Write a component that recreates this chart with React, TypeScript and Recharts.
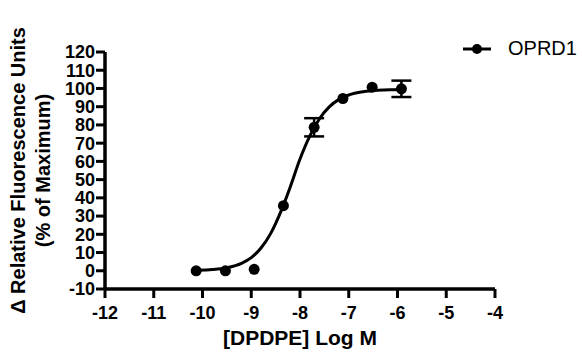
import { ComposedChart, Line, Scatter, ErrorBar, XAxis, YAxis, Legend } from "recharts";

const logDose = [-10.13, -9.53, -8.94, -8.34, -7.71, -7.12, -6.52, -5.92];
const response = [0, 0, 0.8, 35.7, 78.7, 94.5, 100.7, 99.8];
const sem = [null, null, null, null, 5, null, null, 4.5];

// fitted curve
const curveX = [-10.1, -9.8, -9.5, -9.2, -9.0, -8.8, -8.6, -8.4, -8.2, -8.0, -7.8, -7.6, -7.4, -7.2, -7.0, -6.7, -6.4, -6.1, -5.9];
const curveY = [0.3, 0.7, 1.7, 4.1, 7.2, 12.5, 20.5, 32, 46, 61.3, 73.9, 83.4, 89.9, 94.0, 96.4, 98.2, 99.0, 99.3, 99.4];

const xTicks = [-12, -11, -10, -9, -8, -7, -6, -5, -4];
const yTicks = [-10, 0, 10, 20, 30, 40, 50, 60, 70, 80, 90, 100, 110, 120];

const points = logDose.map((x, i) => ({ x, y: response[i], err: sem[i] }));
const curve = curveX.map((x, i) => ({ x, y: curveY[i] }));

const FONT = "'Liberation Sans', Arial, sans-serif";
const tickStyle = { fill: "#000", fontSize: 18, fontWeight: 700, fontFamily: FONT };

const YLabel = ({ viewBox }: any) => {
  const cy = viewBox.y + viewBox.height / 2;
  const style = { fontSize: 20, fontWeight: 700, fontFamily: FONT, fill: "#000" };
  return (
    <g>
      <text x={18} y={cy} transform={`rotate(-90 18 ${cy})`} textAnchor="middle" dominantBaseline="central" style={style}>
        Δ Relative Fluorescence Units
      </text>
      <text x={43} y={cy} transform={`rotate(-90 43 ${cy})`} textAnchor="middle" dominantBaseline="central" style={style}>
        (% of Maximum)
      </text>
    </g>
  );
};

const XLabel = ({ viewBox }: any) => (
  <text x={viewBox.x + viewBox.width / 2} y={345} textAnchor="middle"
    style={{ fontSize: 21, fontWeight: 700, fontFamily: FONT, fill: "#000" }}>
    [DPDPE] Log M
  </text>
);

const LegendContent = () => (
  <div style={{ display: "flex", alignItems: "center", fontFamily: FONT }}>
    <svg width={30} height={12}>
      <line x1={1} y1={6} x2={29} y2={6} stroke="#000" strokeWidth={3} />
      <circle cx={15} cy={6} r={5} fill="#000" />
    </svg>
    <span style={{ marginLeft: 16, fontSize: 20, color: "#000" }}>OPRD1</span>
  </div>
);

export default function App() {
  return (
    <div style={{ position: "absolute", left: 0, top: 0, background: "#fff" }}>
      <ComposedChart width={582} height={360} margin={{ top: 29, right: 87, bottom: 0, left: 0 }}>
        <XAxis
          dataKey="x"
          type="number"
          domain={[-12, -4]}
          ticks={xTicks}
          height={71}
          axisLine={{ stroke: "#000", strokeWidth: 3.5 }}
          tickLine={{ stroke: "#000", strokeWidth: 3 }}
          tickSize={9}
          tickMargin={8}
          tick={tickStyle}
          label={<XLabel />}
        />
        <YAxis
          type="number"
          domain={[-10, 120]}
          ticks={yTicks}
          width={105}
          interval={0}
          axisLine={{ stroke: "#000", strokeWidth: 3.5 }}
          tickLine={{ stroke: "#000", strokeWidth: 3 }}
          tickSize={9}
          tickMargin={1}
          tick={tickStyle}
          label={<YLabel />}
        />
        <Legend
          verticalAlign="top"
          align="right"
          content={<LegendContent />}
          wrapperStyle={{ position: "absolute", top: 37, left: 462, width: 120 }}
        />
        <Line
          data={curve}
          dataKey="y"
          type="monotone"
          stroke="#000"
          strokeWidth={3}
          dot={false}
          legendType="none"
          isAnimationActive={false}
        />
        <Scatter
          data={points}
          dataKey="y"
          fill="#000"
          shape={(p: any) => <circle cx={p.cx} cy={p.cy} r={5.5} fill="#000" />}
          isAnimationActive={false}
        >
          <ErrorBar dataKey="err" direction="y" width={10} stroke="#000" strokeWidth={2.5} isAnimationActive={false} />
        </Scatter>
      </ComposedChart>
    </div>
  );
}
